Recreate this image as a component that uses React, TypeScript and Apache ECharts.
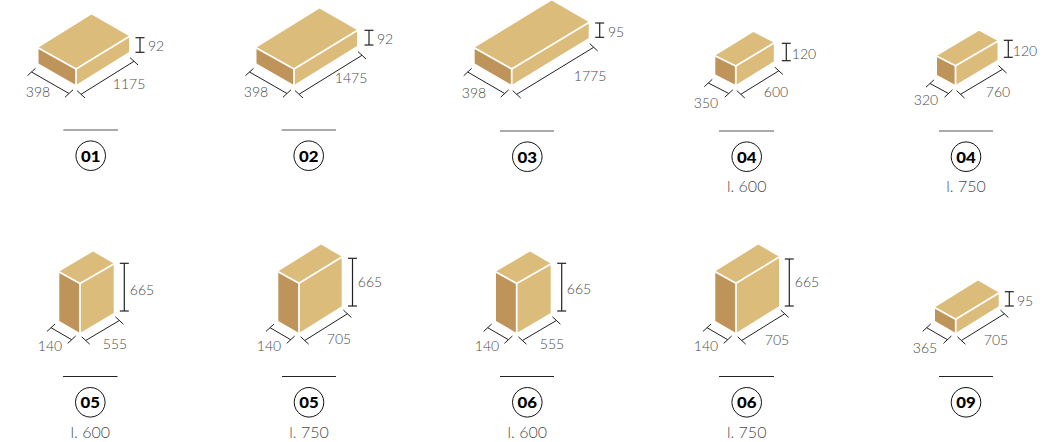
import React, { useEffect, useRef } from "react";
import * as echarts from "echarts";

// Texts
const blockIds = ["01", "02", "03", "04", "04", "05", "05", "06", "06", "09"];
const lengthNotes = ["", "", "", "l. 600", "l. 750", "l. 600", "l. 750", "l. 600", "l. 750", ""];
const widths = ["398", "398", "398", "350", "320", "140", "140", "140", "140", "365"];
const lengths = ["1175", "1475", "1775", "600", "760", "555", "705", "555", "705", "705"];
const heights = ["92", "92", "95", "120", "120", "665", "665", "665", "665", "95"];

// Layout of the drawing, in page pixels
const frontCorners = [[76, 85], [294, 85], [511.7, 85], [735.8, 85], [955.5, 85], [80, 333], [299, 333], [516.7, 333], [736, 333], [955.7, 333]];
const widthRuns = [[-37.5, -21.5], [-37.5, -21.5], [-37, -21.5], [-20.5, -10.5], [-18.5, -10], [-20.7, -12], [-20.7, -12], [-20.7, -12], [-20.7, -12], [-20.7, -12]];
const lengthRuns = [[53, -33], [63, -39], [77, -47], [38, -23.5], [42, -25], [33.7, -20], [42.7, -26.7], [34, -20], [43, -26.7], [43, -26.7]];
const rises = [16, 16, 16, 19, 19.3, 49.5, 49.7, 49.5, 49.7, 13.7];
const heightBars = [[140, 37.7, 52.3], [369, 30.3, 45], [599.7, 23, 37.3], [786.3, 43.3, 60.7], [1008.3, 40.3, 57.3], [124.3, 263.3, 311], [352.5, 258.3, 306], [561.7, 263.3, 311], [789.3, 259, 306], [1009.3, 291.7, 306]];
const heightLabelAt = [[156, 45], [385, 38], [616, 31], [804, 53], [1025, 50], [142, 289], [370, 281], [579, 288], [807, 281], [1025, 300]];
const widthLabelAt = [[38, 91], [256, 91], [474, 92], [706, 102], [926, 99], [50, 345], [269, 345], [487, 345], [706, 345], [925, 347]];
const lengthLabelAt = [[129, 83], [351, 77], [590, 75], [776, 91], [998, 91], [115, 343], [339, 338], [552, 343], [777, 339], [996, 339]];
const ruleAt = [[63.3, 118, 130], [281.7, 336, 130], [500, 554, 131], [719, 774, 131], [939, 993, 131], [63, 117.5, 376.5], [282, 336, 376.5], [500, 554, 376.5], [719, 774, 376.5], [939, 993, 376.5]];
const badgeAt = [[90.7, 155.7], [308.7, 155.7], [527.3, 156.7], [746.7, 156.7], [966, 156.7], [90.3, 402.3], [309, 402.3], [527.3, 402.3], [746.7, 402.3], [966, 402.3]];
const noteY = [0, 0, 0, 185, 185, 431, 431, 431, 431, 0];

const TOP_COLOR = "#dcbc7b";
const SIDE_COLOR = "#bf945a";
const DIM_COLOR = "#222222";
const TEXT_COLOR = "#4a4a4a";
const FONT = "Lato, 'Noto Sans', sans-serif";

function renderBlock(_params: any, api: any) {
  const i = api.value(2) as number;
  const at = (x: number, y: number) => api.coord([x, y]) as number[];
  const [fx, fy] = at(api.value(0), api.value(1));
  const [wx, wy] = widthRuns[i];
  const [lx, ly] = lengthRuns[i];
  const h = rises[i];
  const firstRow = i < 5;

  const poly = (pts: number[][], fill: string) => ({
    type: "polygon",
    shape: { points: pts },
    style: { fill },
  });
  const line = (x1: number, y1: number, x2: number, y2: number, w = 1, stroke = DIM_COLOR) => ({
    type: "line",
    shape: { x1, y1, x2, y2 },
    style: { stroke, lineWidth: w, fill: "none" },
  });
  const label = (text: string, p: number[], size = 14, weight: any = 300, fill = TEXT_COLOR, scaleX = 1) => {
    const [x, y] = at(p[0], p[1]);
    return {
      type: "text",
      x,
      y,
      scaleX,
      style: { text, x: 0, y: 0, align: "center", verticalAlign: "middle", fontFamily: FONT, fontSize: size, fontWeight: weight, fill },
    };
  };

  const children: any[] = [
    poly([[fx, fy], [fx + wx, fy + wy], [fx + wx, fy + wy - h], [fx, fy - h]], SIDE_COLOR),
    poly([[fx, fy], [fx + lx, fy + ly], [fx + lx, fy + ly - h], [fx, fy - h]], TOP_COLOR),
    poly([[fx, fy - h], [fx + wx, fy + wy - h], [fx + wx + lx, fy + wy + ly - h], [fx + lx, fy + ly - h]], TOP_COLOR),
    line(fx, fy, fx, fy - h, 1.8, "#ffffff"),
    line(fx, fy - h, fx + wx - 1, fy + wy - h, 1.8, "#ffffff"),
    line(fx, fy - h, fx + lx + 1, fy + ly - h, 1.8, "#ffffff"),
  ];

  // width dimension
  const bx = fx - (firstRow ? 7 : 8.3);
  const by = fy + (firstRow ? 8.5 : 6.7);
  children.push(line(bx, by, bx + wx, by + wy));
  children.push(line(bx - 4, by + 3.7, bx + 4, by - 3.7));
  children.push(line(bx + wx - 4, by + wy + 3.7, bx + wx + 4, by + wy - 3.7));

  // length dimension
  const ax = fx + (firstRow ? 5 : 5.7);
  const ay = fy + (firstRow ? 9.3 : 7.5);
  children.push(line(ax, ay, ax + lx, ay + ly));
  children.push(line(ax - 4, ay - 3.7, ax + 4, ay + 3.7));
  children.push(line(ax + lx - 4, ay + ly - 3.7, ax + lx + 4, ay + ly + 3.7));

  // height dimension
  const [hx, hTop, hBottom] = heightBars[i];
  const [hpx, hpy0] = at(hx, hTop);
  const [, hpy1] = at(hx, hBottom);
  children.push(line(hpx, hpy0, hpx, hpy1, 1.2));
  children.push(line(hpx - 4.5, hpy0, hpx + 4.5, hpy0, 1.2));
  children.push(line(hpx - 4.5, hpy1, hpx + 4.5, hpy1, 1.2));

  children.push(label(heights[i], heightLabelAt[i]));
  children.push(label(widths[i], widthLabelAt[i]));
  children.push(label(lengths[i], lengthLabelAt[i]));

  // separator rule
  const [r0, r1, ry] = ruleAt[i];
  const [rx0, rpy] = at(r0, ry);
  const [rx1] = at(r1, ry);
  children.push(line(rx0, rpy, rx1, rpy, 1, firstRow ? "#555555" : "#222222"));

  // numbered badge
  const [cx, cy] = at(badgeAt[i][0], badgeAt[i][1]);
  children.push({
    type: "circle",
    shape: { cx, cy, r: 14.8 },
    style: { fill: "#ffffff", stroke: "#111111", lineWidth: 1 },
  });
  children.push(label(blockIds[i], badgeAt[i], 15, 900, "#000000", 1.12));

  if (lengthNotes[i]) {
    children.push(label(lengthNotes[i], [badgeAt[i][0], noteY[i]], 16, 300));
  }

  return { type: "group", children };
}

export default function App() {
  const ref = useRef<HTMLDivElement>(null);
  useEffect(() => {
    document.body.style.margin = "0";
    const chart = echarts.init(ref.current!, undefined, { renderer: "svg", width: 1056, height: 442 });
    chart.setOption({
      animation: false,
      backgroundColor: "#ffffff",
      grid: { left: 0, right: 0, top: 0, bottom: 0 },
      xAxis: { type: "value", min: 0, max: 1056, show: false },
      yAxis: { type: "value", min: 0, max: 442, inverse: true, show: false },
      tooltip: { show: false },
      series: [
        {
          type: "custom",
          silent: true,
          clip: false,
          renderItem: renderBlock,
          data: frontCorners.map((c, i) => [c[0], c[1], i]),
        },
      ],
    });
    return () => chart.dispose();
  }, []);
  return <div ref={ref} style={{ width: 1056, height: 442 }} />;
}
